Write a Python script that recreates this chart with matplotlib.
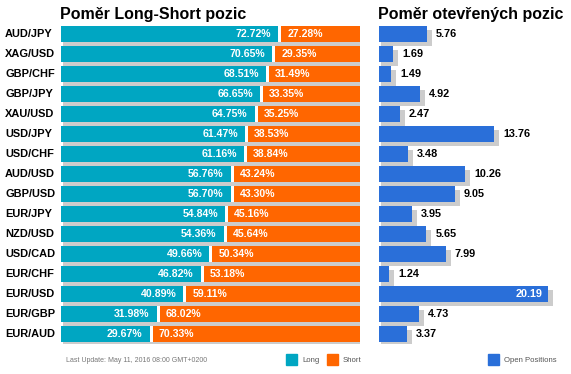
import matplotlib
matplotlib.use("Agg")
import matplotlib.pyplot as plt
from matplotlib.patches import Rectangle

plt.rcParams['font.family'] = ['Liberation Sans', 'DejaVu Sans']

pairs = ["AUD/JPY", "XAG/USD", "GBP/CHF", "GBP/JPY", "XAU/USD", "USD/JPY", "USD/CHF",
         "AUD/USD", "GBP/USD", "EUR/JPY", "NZD/USD", "USD/CAD", "EUR/CHF", "EUR/USD",
         "EUR/GBP", "EUR/AUD"]
long_pct = [72.72, 70.65, 68.51, 66.65, 64.75, 61.47, 61.16, 56.76, 56.70, 54.84, 54.36,
            49.66, 46.82, 40.89, 31.98, 29.67]
short_pct = [27.28, 29.35, 31.49, 33.35, 35.25, 38.53, 38.84, 43.24, 43.30, 45.16, 45.64,
             50.34, 53.18, 59.11, 68.02, 70.33]
open_pos = [5.76, 1.69, 1.49, 4.92, 2.47, 13.76, 3.48, 10.26, 9.05, 3.95, 5.65, 7.99,
            1.24, 20.19, 4.73, 3.37]

title_left = "Poměr Long-Short pozic"
title_right = "Poměr otevřených pozic"
footer = "Last Update: May 11, 2016 08:00 GMT+0200"

C_LONG = "#00A6C2"
C_SHORT = "#FF6600"
C_OPEN = "#2A6FD9"
C_SHADOW = "#CCCCCC"

W, H = 571, 374
fig = plt.figure(figsize=(W / 100, H / 100), dpi=100)

def fx(px):
    return px / W

def fy(py):
    return 1 - py / H

n = len(pairs)
top_px, bot_px = 24, 24 + 20 * n
axL = fig.add_axes([fx(61), fy(bot_px), fx(360) - fx(61), (bot_px - top_px) / H])
axR = fig.add_axes([fx(379), fy(bot_px), fx(571) - fx(379), (bot_px - top_px) / H])

rows = list(range(n))
bh = 0.8
sh_dy = 0.2  # 4px

# left panel
ux = 100 / 299  # data units per pixel
axL.barh([r + sh_dy for r in rows], [100 + 3.5 * ux] * n, left=2 * ux, height=bh,
         color=C_SHADOW, zorder=1)
axL.barh(rows, long_pct, height=bh, color=C_LONG, zorder=2)
axL.barh(rows, [100 - l - 3 * ux for l in long_pct],
         left=[l + 3 * ux for l in long_pct], height=bh, color=C_SHORT, zorder=2)
axL.barh(rows, [3 * ux] * n, left=long_pct, height=bh, color="white", zorder=2)
for r, l, s in zip(rows, long_pct, short_pct):
    axL.text(l - 7 * ux, r, f"{l:.2f}%", ha="right", va="center", color="white",
             fontsize=7.6, fontweight="bold", zorder=3)
    axL.text(l + 9 * ux, r, f"{s:.2f}%", ha="left", va="center", color="white",
             fontsize=7.6, fontweight="bold", zorder=3)
axL.set_xlim(0, 100)
axL.set_ylim(n - 0.5, -0.5)
axL.axis("off")

# right panel
uxr = 1 / 8.37
axR.barh([r + sh_dy for r in rows], [v + 3 * uxr for v in open_pos], left=2 * uxr,
         height=bh, color=C_SHADOW, zorder=1)
axR.barh(rows, open_pos, height=bh, color=C_OPEN, zorder=2)
vmax = max(open_pos)
for r, v in zip(rows, open_pos):
    if v == vmax:
        axR.text(v - 5 * uxr, r, f"{v:.2f}", ha="right", va="center", color="white",
                 fontsize=7.8, fontweight="bold", zorder=3)
    else:
        axR.text(v + 9 * uxr, r, f"{v:.2f}", ha="left", va="center", color="black",
                 fontsize=7.8, fontweight="bold", zorder=3)
axR.set_xlim(0, 192 / 8.37)
axR.set_ylim(n - 0.5, -0.5)
axR.axis("off")

# category labels
for r, p in zip(rows, pairs):
    fig.text(fx(5), fy(34 + 20 * r), p, ha="left", va="center", fontsize=7.9,
             fontweight="bold", color="black")

# titles
fig.text(fx(60), fy(15), title_left, ha="left", va="center", fontsize=11.5,
         fontweight="bold", color="black")
fig.text(fx(378), fy(15), title_right, ha="left", va="center", fontsize=11.5,
         fontweight="bold", color="black")

# footer and legends
fig.text(fx(66), fy(361), footer, ha="left", va="center", fontsize=5, color="#777777")

def key(x0, color, label):
    fig.patches.append(Rectangle((fx(x0), fy(365)), fx(11), 11 / H, color=color,
                                 transform=fig.transFigure, figure=fig))
    fig.text(fx(x0 + 16), fy(360.5), label, ha="left", va="center", fontsize=5.6,
             color="#555555")

key(286, C_LONG, "Long")
key(327, C_SHORT, "Short")
key(488, C_OPEN, "Open Positions")

fig.savefig("out.png", dpi=100)
